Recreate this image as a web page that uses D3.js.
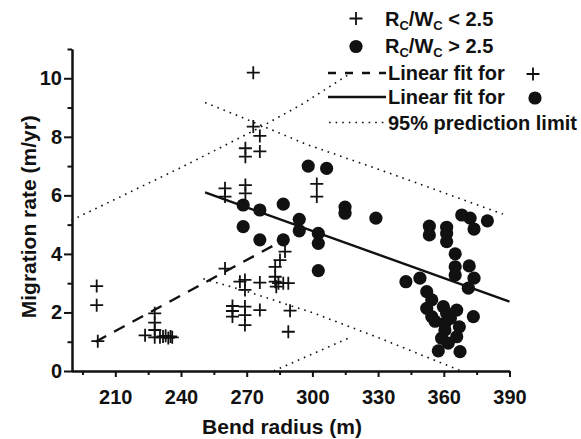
<!DOCTYPE html>
<html>
<head>
<meta charset="utf-8">
<script src="https://cdn.jsdelivr.net/npm/d3@7"></script>
<style>
  html, body { margin: 0; padding: 0; background: #fff; }
  svg { display: block; }
  text { font-family: "Liberation Sans", Arial, Helvetica, sans-serif; font-weight: bold; fill: #111; }
</style>
</head>
<body>
<svg id="chart" width="581" height="439"></svg>
<script>
// ---- data ----
const plusPoints = [
  [201.5, 2.9], [201.5, 2.25], [202, 1.02],
  [228, 1.97], [228, 1.65], [228, 1.4], [228, 1.15], [223.6, 1.22],
  [230.4, 1.15], [231.8, 1.18], [233, 1.2], [234.2, 1.13], [235.2, 1.18], [236, 1.15],
  [260.1, 3.5], [260.1, 6.24], [260.1, 5.96],
  [263.5, 2.22], [263.5, 2.05], [263.5, 1.86],
  [266.9, 3.05],
  [269.4, 7.61], [269.4, 7.32], [269.4, 6.35], [269.4, 6.07],
  [269.2, 3.11], [269.2, 2.77], [269.2, 2.2], [269.2, 1.91], [269.2, 1.57],
  [273, 10.19], [273, 8.35], [276, 8.03], [276, 7.5],
  [276, 3.02], [276, 2.08],
  [283, 3.56], [283, 3.22], [283, 3.05], [283.5, 2.88], [284.5, 3.0], [286.7, 3.0], [289, 3.0],
  [285.2, 3.79], [287.5, 4.08],
  [289.8, 2.06], [289, 1.34],
  [302, 6.39], [302, 5.96]
];
const circlePoints = [
  [268.4, 5.67], [268.4, 4.93], [276, 5.5], [276, 4.48], [286.7, 5.7], [286.7, 4.48],
  [294, 5.18], [294, 4.79], [298.1, 7.0], [306.5, 6.92], [302.7, 4.7], [302.7, 4.36],
  [302.7, 3.43], [314.9, 5.6], [314.9, 5.39], [329, 5.22],
  [342.7, 3.05], [349.1, 3.17], [352.2, 2.71], [354.5, 2.43], [352.2, 2.14], [354.5, 1.86],
  [359.8, 2.2], [361.3, 1.97], [365.9, 2.08], [360.5, 1.63], [367.1, 1.51], [373.5, 1.86],
  [365.9, 1.17], [359, 1.12], [362, 0.95], [357.5, 0.69], [367.4, 0.66], [360.5, 1.4],
  [356, 1.7], [363, 1.8],
  [353.4, 4.95], [353.4, 4.65], [361.3, 4.91], [361.3, 4.7], [361.3, 4.42], [368.2, 5.33],
  [372, 5.22], [373.8, 4.85], [379.9, 5.13], [365.2, 4.0], [365.2, 3.56], [365.2, 3.28],
  [371.6, 3.59], [373.8, 3.17], [371.2, 2.83]
];
const fitPlus = [[201, 1.0], [284.5, 4.38]];
const fitCircle = [[251, 6.1], [390, 2.37]];
const upperPlus = [[190, 5.15], [240, 6.95], [273, 8.2], [295, 9.1], [317, 10.15]];
const lowerPlus = [[282.3, 0], [317.3, 1.15]];
const upperCircle = [[251, 9.17], [267, 8.69], [297, 7.75], [331, 6.87], [387, 5.36]];
const lowerCircle = [[250.2, 3.15], [267.8, 2.77], [299.8, 2.0], [330.8, 1.12], [368, 0]];

const xMajor = [210, 240, 270, 300, 330, 360, 390];
const xMinor = [195, 225, 255, 285, 315, 345, 375];
const yMajor = [0, 2, 4, 6, 8, 10];
const yMinor = [1, 3, 5, 7, 9, 11];

const xTitle = "Bend radius (m)";
const yTitle = "Migration rate (m/yr)";

// ---- drawing ----
const svg = d3.select("#chart");
const x = d3.scaleLinear().domain([190, 390]).range([71.5, 509.5]);
const y = d3.scaleLinear().domain([0, 11]).range([371, 49]);
const ink = "#111";

const line = d3.line().x(d => x(d[0])).y(d => y(d[1]));

// prediction limits (dotted)
[upperPlus, lowerPlus, upperCircle, lowerCircle].forEach(d => {
  svg.append("path").attr("d", line(d)).attr("fill", "none")
    .attr("stroke", ink).attr("stroke-width", 1.6).attr("stroke-dasharray", "1.6 5");
});

// fits
svg.append("path").attr("d", line(fitPlus)).attr("fill", "none")
  .attr("stroke", ink).attr("stroke-width", 2.4).attr("stroke-dasharray", "12 9");
svg.append("path").attr("d", line(fitCircle)).attr("fill", "none")
  .attr("stroke", ink).attr("stroke-width", 2.4);

// plus points
const plusPath = "M-6.5,0H6.5M0,-6.5V6.5";
svg.append("g").selectAll("path").data(plusPoints).join("path")
  .attr("transform", d => `translate(${x(d[0])},${y(d[1])})`)
  .attr("d", plusPath).attr("stroke", ink).attr("stroke-width", 1.8).attr("fill", "none");

// circle points
svg.append("g").selectAll("circle").data(circlePoints).join("circle")
  .attr("cx", d => x(d[0])).attr("cy", d => y(d[1])).attr("r", 6.6).attr("fill", ink);

// axes
function styleAxis(g) {
  g.selectAll("path.domain").attr("stroke", ink).attr("stroke-width", 2);
  g.selectAll(".tick line").attr("stroke", ink).attr("stroke-width", 2);
  g.selectAll(".tick text").attr("font-size", 20).attr("font-family", "'Liberation Sans', Arial, sans-serif")
    .attr("font-weight", "bold").attr("fill", ink);
}
const xAxisG = svg.append("g").attr("transform", "translate(0,371)")
  .call(d3.axisBottom(x).tickValues(xMajor).tickSize(6).tickSizeOuter(0).tickPadding(13).tickFormat(d3.format("d")));
styleAxis(xAxisG);
const xMinorG = svg.append("g").attr("transform", "translate(0,371)")
  .call(d3.axisBottom(x).tickValues(xMinor).tickSize(4).tickSizeOuter(0).tickFormat(""));
styleAxis(xMinorG);
const yAxisG = svg.append("g").attr("transform", "translate(72,0)")
  .call(d3.axisLeft(y).tickValues(yMajor).tickSize(8).tickSizeOuter(0).tickPadding(2).tickFormat(d3.format("d")));
styleAxis(yAxisG);
const yMinorG = svg.append("g").attr("transform", "translate(72,0)")
  .call(d3.axisLeft(y).tickValues(yMinor).tickSize(4.5).tickSizeOuter(0).tickFormat(""));
styleAxis(yMinorG);

// axis titles
svg.append("text").attr("x", 282).attr("y", 434).attr("text-anchor", "middle")
  .attr("font-size", 21).text(xTitle);
svg.append("text").attr("transform", "translate(36,216.7) rotate(-90)").attr("text-anchor", "middle")
  .attr("font-size", 21).text(yTitle);

// legend
const lg = svg.append("g");
const fs = 20;
function subLabel(yb, sym) {
  const t = lg.append("text").attr("x", 385).attr("y", yb).attr("font-size", fs);
  t.append("tspan").text("R");
  t.append("tspan").attr("font-size", 13).attr("dy", 4).text("C");
  t.append("tspan").attr("dy", -4).text("/W");
  t.append("tspan").attr("font-size", 13).attr("dy", 4).text("C");
  t.append("tspan").attr("dy", -4).text(" " + sym + " 2.5");
}
lg.append("path").attr("transform", "translate(356,18.5)").attr("d", plusPath)
  .attr("stroke", ink).attr("stroke-width", 1.8);
subLabel(26, "<");
lg.append("circle").attr("cx", 356).attr("cy", 46.5).attr("r", 6.6).attr("fill", ink);
subLabel(53, ">");

lg.append("line").attr("x1", 328).attr("x2", 386).attr("y1", 73).attr("y2", 73)
  .attr("stroke", ink).attr("stroke-width", 2.4).attr("stroke-dasharray", "8 9");
lg.append("text").attr("x", 388).attr("y", 80).attr("font-size", fs).text("Linear fit for");
lg.append("path").attr("transform", "translate(533,74)").attr("d", plusPath)
  .attr("stroke", ink).attr("stroke-width", 1.8);

lg.append("line").attr("x1", 328).attr("x2", 386).attr("y1", 97).attr("y2", 97)
  .attr("stroke", ink).attr("stroke-width", 2.4);
lg.append("text").attr("x", 388).attr("y", 104).attr("font-size", fs).text("Linear fit for");
lg.append("circle").attr("cx", 535).attr("cy", 98).attr("r", 6.6).attr("fill", ink);

lg.append("line").attr("x1", 329).attr("x2", 385).attr("y1", 122.5).attr("y2", 122.5)
  .attr("stroke", ink).attr("stroke-width", 1.6).attr("stroke-dasharray", "1.6 5");
lg.append("text").attr("x", 388).attr("y", 130).attr("font-size", fs).text("95% prediction limit");
</script>
</body>
</html>
